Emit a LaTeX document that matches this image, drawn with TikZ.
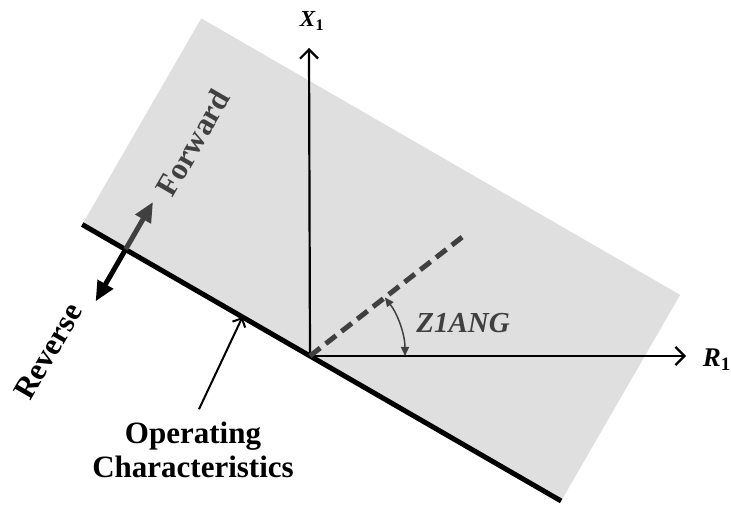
\documentclass[tikz,border=0pt]{standalone}
\usepackage{amsmath, amssymb}
\usepackage{fontspec}
\setmainfont{Liberation Serif}
\usetikzlibrary{positioning,arrows.meta}
\definecolor{planegray}{RGB}{223,223,223}
\definecolor{darkline}{RGB}{64,64,64}
\newcommand{\axsym}[2]{\textbf{\textit{#1}}\textsubscript{\textbf{#2}}}
\tikzset{
  axisarrow/.style={-{Straight Barb[length=9pt,width=18pt]}, line width=2.2pt},
  dirarrow/.style={-{Triangle[length=20pt,width=17pt]}, line width=5pt},
  charline/.style={line width=5pt},
  anglearc/.style={{Triangle[length=9pt,width=8pt]}-{Triangle[length=9pt,width=8pt]}, line width=1.5pt, darkline},
  reachline/.style={darkline, line width=5pt, dash pattern=on 13pt off 7pt},
  pointer/.style={-{Straight Barb[length=7pt,width=14pt]}, line width=2pt},
  biglabel/.style={font=\fontsize{31}{34}\selectfont\bfseries, align=center, inner sep=0pt},
  axislabel/.style={inner sep=0pt}
}
\begin{document}
\begin{tikzpicture}[x=1pt, y=1pt]
  \useasboundingbox (0,0) rectangle (731,505);
  \coordinate (O) at (310,149);
  % operating plane and characteristic line
  \begin{scope}[shift={(O)}, rotate=-30]
    \fill[planegray] (-263,0) rectangle (290,238);
    \draw[charline] (-263,0) -- (290,0);
    \coordinate (dirmid) at (-213,0);
    \coordinate (fwdtip) at (-213,55);
    \coordinate (revtip) at (-213,-60);
    \coordinate (touch) at (-78,0);
    \node[biglabel, text=darkline, rotate=60] (fwd) at (-208,126) {Forward};
    \node[biglabel, rotate=60] (rev) at (-229,-127) {Reverse};
  \end{scope}
  \draw[dirarrow, darkline] (dirmid) -- (fwdtip);
  \draw[dirarrow] (dirmid) -- (revtip);
  % axes
  \coordinate (xtip) at (309,457);
  \coordinate (rtip) at (686,149);
  \node[axislabel, font=\fontsize{23}{25}\selectfont] (xlab) at (312,484) {\axsym{X}{1}};
  \node[axislabel, anchor=east, font=\fontsize{27}{30}\selectfont] (rlab) at (731,145) {\axsym{R}{1}};
  \draw[axisarrow] (O) -- (xtip);
  \draw[axisarrow] (O) -- (rtip);
  % line angle
  \path (O) ++(38:200) coordinate (reachend);
  \draw[reachline] (O) -- (reachend);
  \draw[anglearc] ([shift={(0:95)}]O) arc[start angle=0, end angle=38, radius=95];
  \node[axislabel, text=darkline, font=\fontsize{29}{32}\selectfont\bfseries\itshape] (ang) at (463,182) {Z1ANG};
  % characteristic label
  \node[biglabel] (opchar) at (193,55) {Operating\\Characteristics};
  \draw[pointer, shorten <=14pt] (opchar.north) -- (touch);
\end{tikzpicture}
\end{document}
